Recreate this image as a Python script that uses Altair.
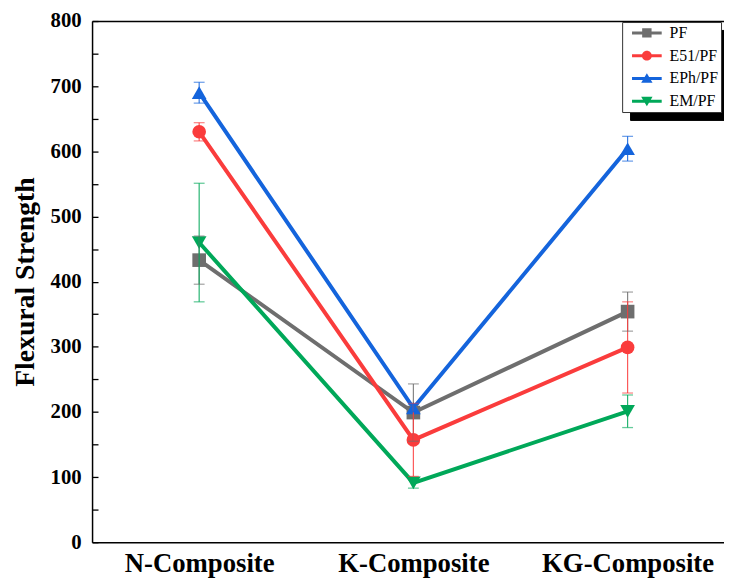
import json
import altair as alt
import pandas as pd

categories = ["N-Composite", "K-Composite", "KG-Composite"]
series = ["PF", "E51/PF", "EPh/PF", "EM/PF"]
pf = [433, 199, 354]
pf_err = [37, 44, 30]
e51 = [630, 157, 299]
e51_err = [14, 56, 70]
eph = [690, 206, 604]
eph_err = [16, 6, 19]
em = [460, 91, 201]
em_err = [91, 8, 25]

colors = ["#6e6e6e", "#fa3c3c", "#1464dc", "#00a859"]
shapes = ["square", "circle", "triangle-up", "triangle-down"]
legend_paths = [
    "M-3,-0.3H3V0.3H-3Z M-0.95,-0.95H0.95V0.95H-0.95Z",
    "M-3,-0.3H3V0.3H-3Z M-1,0A1,1 0 1,1 1,0A1,1 0 1,1 -1,0Z",
    "M-3,-0.3H3V0.3H-3Z M0,-1.05L1.15,0.9H-1.15Z",
    "M-3,-0.3H3V0.3H-3Z M-1.15,-0.9H1.15L0,1.05Z",
]

rows = []
for s, vals, errs in zip(series, [pf, e51, eph, em], [pf_err, e51_err, eph_err, em_err]):
    for i, (c, v, e) in enumerate(zip(categories, vals, errs)):
        rows.append({"series": s, "cat": c, "idx": i, "value": v, "lo": v - e, "hi": v + e})
df = pd.DataFrame(rows)

W, H = 639, 527
font = "Liberation Serif"
xdom = [-0.5, 2.45]
ydom = [0, 800]
label_expr = json.dumps(categories) + "[datum.value]"

color_scale = alt.Scale(domain=series, range=colors)
xs = alt.Scale(domain=xdom, nice=False, zero=False)
ys = alt.Scale(domain=ydom, nice=False, zero=True)

base = alt.Chart(df)

lines = base.mark_line(strokeWidth=4).encode(
    x=alt.X("idx:Q", scale=xs, axis=alt.Axis(
        orient="bottom", values=[0, 1, 2], labelExpr=label_expr, ticks=False,
        grid=False, domainColor="black", domainWidth=1.5, labelFont=font,
        labelFontSize=27, labelFontWeight="bold", labelColor="black",
        labelPadding=9, labelFlush=False, title=None)),
    y=alt.Y("value:Q", scale=ys, axis=alt.Axis(
        orient="left", values=list(range(0, 801, 100)), ticks=False, grid=False,
        domainColor="black", domainWidth=1.5, labelFont=font, labelFontSize=21,
        labelFontWeight="bold", labelColor="black", labelPadding=11,
        title="Flexural Strength", titleFont=font, titleFontSize=28,
        titleFontWeight="bold", titleColor="black", titlePadding=11)),
    color=alt.Color("series:N", scale=color_scale, legend=None),
    detail="series:N",
)

point_layers = []
for s, shp in zip(series, shapes):
    sz = 190 if shp in ("square", "circle") else 220
    point_layers.append(
        base.transform_filter(alt.datum.series == s).mark_point(
            filled=True, opacity=1, shape=shp, size=sz).encode(
            x=alt.X("idx:Q", scale=xs, axis=None),
            y=alt.Y("value:Q", scale=ys, axis=None),
            color=alt.Color("series:N", scale=color_scale, legend=None),
        )
    )

err_rules = base.mark_rule(strokeWidth=1.2, opacity=0.85).encode(
    x=alt.X("idx:Q", scale=xs, axis=alt.Axis(
        orient="top", labels=False, ticks=False, grid=False, domainColor="black",
        domainWidth=1.5, title=None)),
    y=alt.Y("lo:Q", scale=ys, axis=alt.Axis(
        orient="right", offset=-W, values=list(range(0, 801, 50)), labels=False,
        domain=False, grid=False, ticks=True, tickSize=6, tickColor="black",
        tickWidth=1.3, title=None)),
    y2="hi:Q",
    color=alt.Color("series:N", scale=color_scale, legend=None),
)

err_caps = base.transform_fold(["lo", "hi"], as_=["end", "yv"]).mark_tick(
    orient="horizontal", size=11, thickness=1.3, opacity=0.6).encode(
    x=alt.X("idx:Q", scale=xs, axis=None),
    y=alt.Y("yv:Q", scale=ys, axis=None),
    color=alt.Color("series:N", scale=color_scale, legend=None),
)

legend_df = pd.DataFrame({"series": series, "value": [None] * len(series), "idx": [0] * len(series)})
LX, LY = 536, 1

# drop shadow of the legend box (same box size, filled black, offset, no texts)
shadow_order = series[::-1]
shadow_leg = alt.Legend(title=None, orient="none", legendX=LX + 8, legendY=LY + 8,
                        fillColor="black", strokeColor="black", labelExpr="''",
                        labelOffset=64)
shadow_layer = alt.Chart(legend_df).mark_point(filled=True, opacity=1, size=169).encode(
    x=alt.X("idx:Q", scale=xs, axis=None),
    y=alt.Y("value:Q", scale=ys, axis=None),
    color=alt.Color("series:N", scale=alt.Scale(domain=shadow_order, range=["black"] * 4),
                    legend=shadow_leg),
    shape=alt.Shape("series:N", scale=alt.Scale(domain=shadow_order, range=legend_paths),
                    legend=shadow_leg),
)

leg = alt.Legend(title=None, orient="none", legendX=LX, legendY=LY)
legend_layer = alt.Chart(legend_df).mark_point(filled=True, opacity=1, size=169).encode(
    x=alt.X("idx:Q", scale=xs, axis=None),
    y=alt.Y("value:Q", scale=ys, axis=None),
    color=alt.Color("series:N", scale=alt.Scale(domain=series, range=colors), legend=leg),
    shape=alt.Shape("series:N", scale=alt.Scale(domain=series, range=legend_paths), legend=leg),
)

chart = alt.layer(lines, *point_layers, err_rules, err_caps, shadow_layer, legend_layer).resolve_scale(
    shape="independent", color="independent"
).properties(
    width=W, height=H,
    autosize=alt.AutoSizeParams(type="none"),
    padding={"left": 85, "top": 10, "right": 0, "bottom": 34},
).configure_view(stroke=None).configure_legend(
    labelFont=font, labelFontSize=16, labelColor="black", symbolOffset=14,
    labelOffset=15, padding=3, rowPadding=7, strokeColor="#333333",
    fillColor="white", symbolStrokeWidth=0, cornerRadius=0,
)

chart.save("out.html", embed_options={"renderer": "svg", "actions": False})
